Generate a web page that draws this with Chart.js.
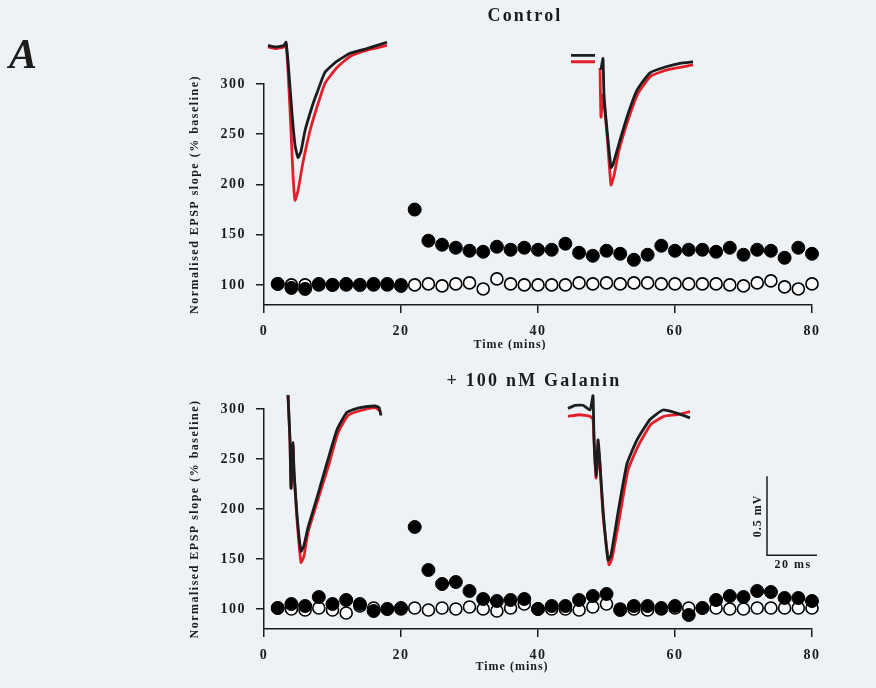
<!DOCTYPE html>
<html><head><meta charset="utf-8">
<script src="https://cdn.jsdelivr.net/npm/chart.js@4.4.0/dist/chart.umd.min.js"></script>
<style>
html,body{margin:0;padding:0;background:#edf2f7;}
#wrap{position:relative;width:876px;height:688px;overflow:hidden;background:#edf2f7;}
canvas{position:absolute;left:0;}
#c1{top:0;} #c2{top:350px;}
</style></head><body>
<div id="wrap"><canvas id="c1" width="876" height="350"></canvas><canvas id="c2" width="876" height="338"></canvas></div>
<script>
// ---------- data ----------
const times = [2,4,6,8,10,12,14,16,18,20,22,24,26,28,30,32,34,36,38,40,42,44,46,48,50,52,54,56,58,60,62,64,66,68,70,72,74,76,78,80];
const controlFilled = [101,97,96,101,100,101,100,101,101,99,175,144,140,137,134,133,138,135,137,135,135,141,132,129,134,131,125,130,139,134,135,135,133,137,130,135,134,127,137,131];
const controlOpen   = [101,100,100,100,100,100,100,100,100,100,100,101,99,101,102,96,106,101,100,100,100,100,102,101,102,101,102,102,101,101,101,101,101,100,99,102,104,98,96,101];
const galaninFilled = [101,105,103,112,105,109,105,98,100,101,182,139,125,127,118,110,108,109,110,100,103,103,109,113,115,99,103,103,101,103,94,101,109,113,112,118,117,111,111,108];
const galaninOpen   = [101,100,99,101,99,96,103,101,100,100,101,99,101,100,102,100,98,101,105,100,100,100,99,102,105,100,100,99,100,101,101,101,101,100,100,101,101,101,101,101];
const xTicks = [0,20,40,60,80];
const yTicks = [100,150,200,250,300];
const panelTitles = ['Control','+ 100 nM Galanin'];
const xTitle = 'Time (mins)';
const yTitle = 'Normalised EPSP slope (% baseline)';

// EPSP traces: time (ms) and voltage (mV, relative to baseline)
const ctrlPreBlackT = [0,3.2,6.4,7.2,8.0,9.6,10.8,12.0,13.2,14.8,17.6,19.6,22.8,27.6,32.8,39.6,47.6];
const ctrlPreBlackV = [0.01,0,0.01,0.03,-0.09,-0.42,-0.62,-0.70,-0.66,-0.53,-0.38,-0.29,-0.16,-0.09,-0.04,-0.01,0.03];
const ctrlPreRedT   = [0,3.2,6.4,7.2,8.0,9.2,10.0,10.8,12.0,14.0,16.8,19.6,22.8,27.6,32.8,39.6,47.6];
const ctrlPreRedV   = [0,-0.01,0,0.02,-0.15,-0.53,-0.81,-0.97,-0.91,-0.73,-0.53,-0.38,-0.23,-0.13,-0.06,-0.02,0.01];
const ctrlPostBlackT = [0,3.6,6.8,9.6,10.8,12.0,12.8,13.2,14.4,16.0,16.8,18.8,22.4,26.4,31.6,38.4,43.6,48.8];
const ctrlPostBlackV = [0.01,0.01,0.01,0.01,null,-0.08,-0.01,-0.24,-0.46,-0.70,-0.68,-0.57,-0.38,-0.21,-0.10,-0.06,-0.04,-0.03];
const ctrlPostRedT   = [0,4.8,9.6,10.8,11.6,12.0,12.8,14.4,16.0,17.2,19.2,22.8,26.8,32.0,38.8,48.8];
const ctrlPostRedV   = [-0.03,-0.03,-0.03,null,-0.07,-0.38,-0.24,-0.49,-0.81,-0.75,-0.59,-0.40,-0.23,-0.12,-0.08,-0.05];
const galPreBlackT = [0,0.8,1.2,1.6,2.0,2.4,3.6,5.2,6.4,8.0,11.6,15.6,19.6,23.6,28.8,34.8,36.4,37.2];
const galPreBlackV = [0.07,-0.22,-0.52,-0.41,-0.23,-0.41,-0.69,-0.92,-0.88,-0.77,-0.58,-0.36,-0.15,-0.04,-0.01,0,-0.01,-0.06];
const galPreRedT   = [0,0.8,1.2,2.0,2.4,3.6,5.2,6.4,8.0,12.0,16.0,20.0,24.0,28.8,34.8,36.8];
const galPreRedV   = [0.07,-0.23,-0.52,-0.25,-0.42,-0.72,-0.99,-0.95,-0.80,-0.59,-0.39,-0.17,-0.06,-0.03,-0.01,-0.03];
const galPostBlackT = [0,2.8,6.0,8.8,10.0,10.4,11.2,12.0,12.4,14.0,16.0,17.2,20.0,23.6,27.6,32.8,38.0,43.6,48.8];
const galPostBlackV = [0.01,0.03,0.03,0,0.09,-0.19,-0.42,-0.19,-0.25,-0.63,-0.95,-0.92,-0.65,-0.34,-0.19,-0.06,0,-0.02,-0.05];
const galPostRedT   = [0,4.8,8.8,10.0,11.2,12.4,14.0,16.4,17.6,20.4,24.0,28.0,33.2,38.4,43.6,48.8];
const galPostRedV   = [-0.04,-0.03,-0.04,-0.06,-0.43,-0.27,-0.66,-0.98,-0.94,-0.70,-0.38,-0.23,-0.09,-0.04,-0.03,-0.01];
const scaleBar = {ms:20, mV:0.5, atMs:79.6, atMV:-0.92};

// ---------- style / layout ----------
const BG = '#edf2f7', INK = '#1c1c1c', RED = '#e3202a';
const SERIF = "'Liberation Serif','Times New Roman',serif";
const PX_PER_MS = 2.5, PX_PER_MV = 158;
const PAD_LEFT = 184;
const AREA1 = {left:264,right:812,top:84,bottom:305,h:350};
const AREA2 = {left:264,right:812,top:59,bottom:279,h:338};

function pts(xs, ys){ return xs.map((x,i)=>({x:x,y:ys[i]})); }
function insetScales(area, leftPx, basePx){
  const x0 = -(leftPx-area.left)/PX_PER_MS;
  const y1 = (basePx-area.top)/PX_PER_MV;
  return {
    x:{type:'linear',display:false,min:x0,max:x0+(area.right-area.left)/PX_PER_MS},
    y:{type:'linear',display:false,min:y1-(area.bottom-area.top)/PX_PER_MV,max:y1}
  };
}
function mainScales(area){
  const tickFont = {family:SERIF,size:14,weight:'bold'};
  const grid = {drawOnChartArea:false,drawTicks:true,tickLength:8,color:INK,lineWidth:1.5};
  return {
    x:{type:'linear',min:0,max:80,
      afterBuildTicks:s=>{s.ticks = xTicks.map(v=>({value:v}));},
      afterFit:s=>{s.height = area.h-area.bottom;},
      grid:grid,border:{display:true,color:INK,width:1.5},
      ticks:{color:INK,font:tickFont,padding:10,maxRotation:0}},
    y:{type:'linear',min:80,max:300,
      afterBuildTicks:s=>{s.ticks = yTicks.map(v=>({value:v}));},
      afterFit:s=>{s.width = area.left-PAD_LEFT;},
      grid:grid,border:{display:true,color:INK,width:1.5},
      ticks:{color:INK,font:tickFont,padding:10},
      title:{display:true,text:yTitle,color:INK,font:{family:SERIF,size:12,weight:'bold'},padding:{top:4,bottom:0}}}
  };
}
function traceDs(xs, ys, color, xid, yid, order){
  return {type:'line',data:pts(xs,ys),borderColor:color,borderWidth:2.8,pointRadius:0,
    tension:0.15,spanGaps:false,fill:false,clip:false,xAxisID:xid,yAxisID:yid,order:order};
}
function pointDs(vals, filled, order){
  return {type:'scatter',data:pts(times,vals),showLine:false,order:order,clip:false,
    pointRadius:filled?6.5:6,pointBorderWidth:filled?1:1.6,
    pointBackgroundColor:filled?'#000':'#fbfcfd',pointBorderColor:'#000',
    backgroundColor:filled?'#000':'#fbfcfd',borderColor:'#000'};
}
const spacing = {id:'spacing',beforeDraw(c){ c.ctx.letterSpacing='1.5px'; }};
function text(ctx, s, x, y, font, align, spacingPx){
  ctx.save(); ctx.letterSpacing = spacingPx; ctx.font = font; ctx.fillStyle = INK;
  ctx.textAlign = align; ctx.textBaseline = 'middle'; ctx.fillText(s, x, y); ctx.restore();
}
function buildChart(id, area, filled, open, traces, insets, extra){
  const sc = mainScales(area);
  const i1 = insetScales(area, insets[0][0], insets[0][1]);
  const i2 = insetScales(area, insets[1][0], insets[1][1]);
  sc.tx1 = i1.x; sc.ty1 = i1.y; sc.tx2 = i2.x; sc.ty2 = i2.y;
  return new Chart(document.getElementById(id), {
    data:{datasets:[
      traceDs(traces[0][0],traces[0][1],INK,'tx1','ty1',1),
      traceDs(traces[1][0],traces[1][1],RED,'tx1','ty1',2),
      traceDs(traces[2][0],traces[2][1],INK,'tx2','ty2',1),
      traceDs(traces[3][0],traces[3][1],RED,'tx2','ty2',2),
      pointDs(filled,true,3),
      pointDs(open,false,4)
    ]},
    options:{responsive:false,animation:false,devicePixelRatio:1,
      layout:{padding:{left:PAD_LEFT,right:876-area.right,top:area.top,bottom:0}},
      plugins:{legend:{display:false},tooltip:{enabled:false},title:{display:false}},
      scales:sc},
    plugins:[spacing,{id:'extra',afterDraw:extra}]
  });
}

buildChart('c1', AREA1, controlFilled, controlOpen,
  [[ctrlPreBlackT,ctrlPreBlackV],[ctrlPreRedT,ctrlPreRedV],[ctrlPostBlackT,ctrlPostBlackV],[ctrlPostRedT,ctrlPostRedV]],
  [[268,47],[571,57]],
  function(c){
    const ctx = c.ctx;
    text(ctx,'A',9,57,"italic bold 42px "+SERIF,'left','0px');
    text(ctx,panelTitles[0],525,16,"bold 18px "+SERIF,'center','2.2px');
    text(ctx,xTitle,510,345,"bold 12px "+SERIF,'center','1px');
  });

buildChart('c2', AREA2, galaninFilled, galaninOpen,
  [[galPreBlackT,galPreBlackV],[galPreRedT,galPreRedV],[galPostBlackT,galPostBlackV],[galPostRedT,galPostRedV]],
  [[288,56],[568,60]],
  function(c){
    const ctx = c.ctx;
    text(ctx,panelTitles[1],534,31,"bold 18px "+SERIF,'center','2.2px');
    text(ctx,xTitle,512,317,"bold 12px "+SERIF,'center','1px');
    const xs = c.scales.tx2, ys = c.scales.ty2;
    const x0 = xs.getPixelForValue(scaleBar.atMs), y0 = ys.getPixelForValue(scaleBar.atMV);
    const x1 = xs.getPixelForValue(scaleBar.atMs+scaleBar.ms), yTop = ys.getPixelForValue(scaleBar.atMV+scaleBar.mV);
    ctx.save(); ctx.strokeStyle = INK; ctx.lineWidth = 1.5;
    ctx.beginPath(); ctx.moveTo(x0,yTop); ctx.lineTo(x0,y0); ctx.lineTo(x1,y0); ctx.stroke(); ctx.restore();
    ctx.save(); ctx.translate(x0-9,(y0+yTop)/2); ctx.rotate(-Math.PI/2);
    text(ctx,scaleBar.mV+' mV',0,0,"bold 12px "+SERIF,'center','1px'); ctx.restore();
    text(ctx,scaleBar.ms+' ms',(x0+x1)/2+1,y0+10,"bold 12px "+SERIF,'center','1.5px');
  });
</script>
</body></html>
